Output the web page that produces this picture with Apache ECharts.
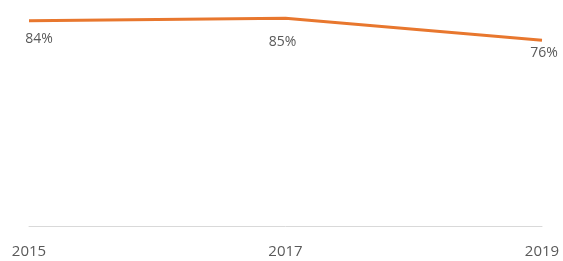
<!DOCTYPE html>
<html>
<head>
<meta charset="utf-8">
<script src="https://cdn.jsdelivr.net/npm/echarts@6/dist/echarts.min.js"></script>
<style>
  html, body { margin: 0; padding: 0; background: #fff; }
  #chart { width: 563px; height: 261px; }
</style>
</head>
<body>
<div id="chart"></div>
<script>
const years = ['2015', '2017', '2019'];
const shares = [84, 85, 76];
const labelOffsets = [[10, 3], [-3, 9], [2, -2]];

const chart = echarts.init(document.getElementById('chart'));
chart.setOption({
  animation: false,
  grid: { left: 29, right: 21, top: 6, bottom: 35 },
  xAxis: {
    type: 'category',
    data: years,
    boundaryGap: false,
    axisLine: { lineStyle: { color: '#d9d9d9', width: 1 } },
    axisTick: { show: false },
    axisLabel: {
      color: '#595959',
      fontSize: 15,
      fontFamily: 'Open Sans',
      margin: 18,
      showMinLabel: true,
      showMaxLabel: true
    }
  },
  yAxis: {
    type: 'value',
    min: 0,
    max: 90,
    show: false,
    splitLine: { show: false }
  },
  series: [{
    type: 'line',
    data: shares.map((v, i) => ({
      value: v,
      label: { offset: labelOffsets[i] }
    })),
    symbol: 'circle',
    symbolSize: 0,
    showSymbol: true,
    lineStyle: { color: '#e8772e', width: 3 },
    itemStyle: { color: '#e8772e' },
    label: {
      show: true,
      position: 'bottom',
      distance: 8,
      color: '#595959',
      fontSize: 14,
      fontFamily: 'Open Sans',
      formatter: '{c}%'
    }
  }]
});
</script>
</body>
</html>
